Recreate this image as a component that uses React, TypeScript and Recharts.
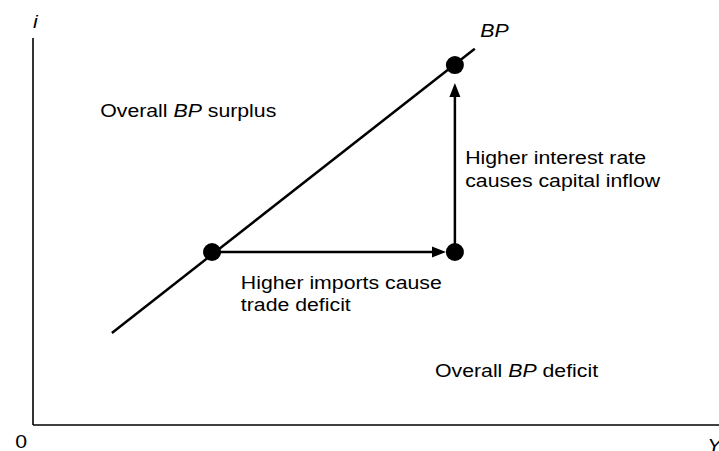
import React from "react";
import {
  ScatterChart,
  Scatter,
  XAxis,
  YAxis,
  ReferenceLine,
  ReferenceDot,
} from "recharts";

// BP curve (two ends of the straight line)
const bpLineX = [11.5, 64.4];
const bpLineY = [23.8, 97.2];

// Equilibrium points: start, after imports rise, after interest rate rises
const pointX = [26.1, 61.5, 61.5];
const pointY = [44.7, 44.7, 93.0];

// Arrow tips
const arrowTipX = 60.2; // horizontal arrow
const arrowTipY = 88.4; // vertical arrow

// Annotations: [x, y, parts]  (parts: [text, italic])
type Part = [string, boolean];
const labelX = [9.8, 63.0, 63.0, 30.3, 30.3, 58.6, 65.2, 0, -2.6, 98.3];
const labelY = [79.6, 67.4, 61.5, 35.1, 29.4, 12.4, 100.3, 102.6, -5.9, -7.0];
const labelParts: Part[][] = [
  [["Overall ", false], ["BP", true], [" surplus", false]],
  [["Higher interest rate", false]],
  [["causes capital inflow", false]],
  [["Higher imports cause", false]],
  [["trade deficit", false]],
  [["Overall ", false], ["BP", true], [" deficit", false]],
  [["BP", true]],
  [["i", true]],
  [["0", false]],
  [["Y", true]],
];

const bpLine = bpLineX.map((x, i) => ({ x, y: bpLineY[i] }));
const points = pointX.map((x, i) => ({ x, y: pointY[i] }));
const labels = labelX.map((x, i) => ({ x, y: labelY[i], parts: labelParts[i] }));

const FONT = "'Liberation Sans', Arial, Helvetica, sans-serif";

const ArrowShape = (props: any) => {
  const { x1, y1, x2, y2 } = props;
  const dx = x2 - x1;
  const dy = y2 - y1;
  const len = Math.sqrt(dx * dx + dy * dy) || 1;
  const ux = dx / len;
  const uy = dy / len;
  const head = 14;
  const hw = 5.5;
  const bx = x2 - ux * head;
  const by = y2 - uy * head;
  const px = -uy;
  const py = ux;
  return (
    <g>
      <line x1={x1} y1={y1} x2={bx + ux * 2} y2={by + uy * 2} stroke="#000" strokeWidth={2.5} />
      <polygon
        points={`${x2},${y2} ${bx + px * hw},${by + py * hw} ${bx - px * hw},${by - py * hw}`}
        fill="#000"
      />
    </g>
  );
};

const makeTextShape = (parts: Part[]) => (props: any) => {
  const { cx, cy } = props;
  return (
    <text
      transform={`translate(${cx},${cy}) scale(1.15,1)`}
      x={0}
      y={0}
      fontFamily={FONT}
      fontSize={18.5}
      fill="#000"
    >
      {parts.map(([t, it], k) => (
        <tspan key={k} fontStyle={it ? "italic" : "normal"} style={{ whiteSpace: "pre" }}>
          {t}
        </tspan>
      ))}
    </text>
  );
};

export default function App() {
  return (
    <div style={{ position: "absolute", left: 0, top: 0, background: "#fff" }}>
      <ScatterChart
        width={719}
        height={451}
        margin={{ top: 38, right: 0, bottom: 0, left: 0 }}
      >
        <XAxis
          type="number"
          dataKey="x"
          domain={[0, 100]}
          allowDataOverflow
          height={26}
          tick={false}
          tickLine={false}
          axisLine={{ stroke: "#000", strokeWidth: 1.6 }}
        />
        <YAxis
          type="number"
          dataKey="y"
          domain={[0, 100]}
          allowDataOverflow
          width={33}
          tick={false}
          tickLine={false}
          axisLine={{ stroke: "#000", strokeWidth: 1.6 }}
        />
        <Scatter
          data={bpLine}
          line={{ stroke: "#000", strokeWidth: 2.5 }}
          shape={() => <g />}
          isAnimationActive={false}
        />
        <ReferenceLine
          segment={[
            { x: pointX[0], y: pointY[0] },
            { x: arrowTipX, y: pointY[1] },
          ]}
          shape={ArrowShape}
          ifOverflow="visible"
        />
        <ReferenceLine
          segment={[
            { x: pointX[1], y: pointY[1] },
            { x: pointX[2], y: arrowTipY },
          ]}
          shape={ArrowShape}
          ifOverflow="visible"
        />
        <Scatter
          data={points}
          shape={(p: any) => <circle cx={p.cx} cy={p.cy} r={9} fill="#000" />}
          isAnimationActive={false}
        />
        {labels.map((l, i) => (
          <ReferenceDot
            key={i}
            x={l.x}
            y={l.y}
            r={0}
            ifOverflow="visible"
            shape={makeTextShape(l.parts)}
          />
        ))}
      </ScatterChart>
    </div>
  );
}
